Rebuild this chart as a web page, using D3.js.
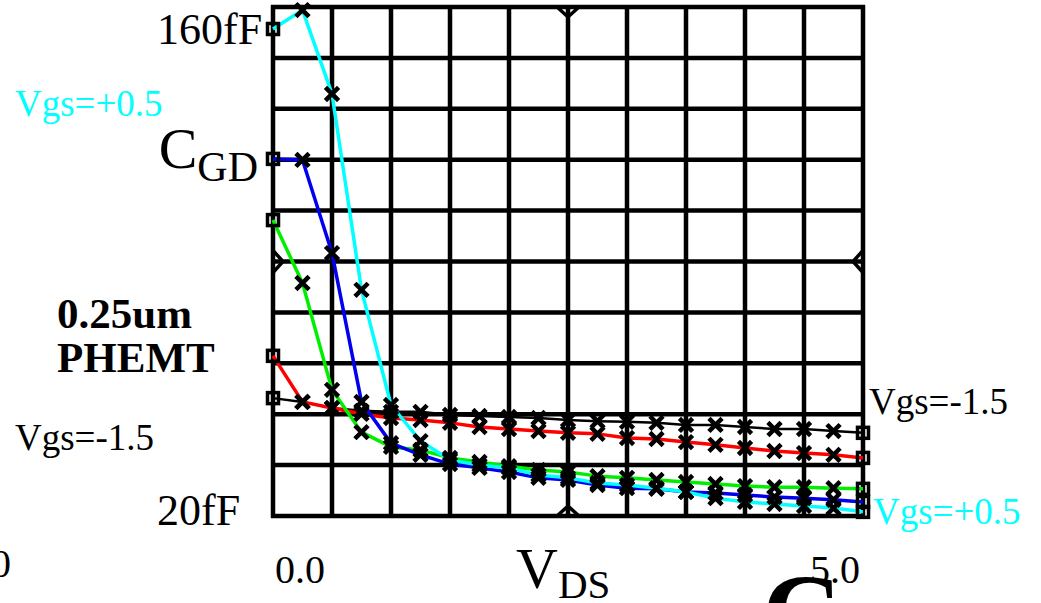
<!DOCTYPE html>
<html>
<head>
<meta charset="utf-8">
<script src="https://cdn.jsdelivr.net/npm/d3@7"></script>
<style>
  html, body { margin: 0; padding: 0; background: #fff; overflow: hidden; }
  svg { display: block; }
  text { font-family: "Liberation Serif", "Times New Roman", serif; }
</style>
</head>
<body>
<svg id="chart" width="1041" height="603"></svg>
<script>
// Drain voltage sweep (V)
const vds = [0, 0.25, 0.5, 0.75, 1.0, 1.25, 1.5, 1.75, 2.0, 2.25, 2.5,
             2.75, 3.0, 3.25, 3.5, 3.75, 4.0, 4.25, 4.5, 4.75, 5.0];

// Gate-drain capacitance (fF) per gate bias
const cgdVgsM15 = [52.6, 51.5, 49.7, 48.9, 48.6, 48.6, 47.7, 47.4, 47.1, 46.8, 46.2,
                   45.9, 45.7, 45.4, 44.8, 44.8, 44.2, 43.6, 43.6, 43.0, 42.5];
const cgdVgsM10 = [64.9, 51.5, 49.7, 48.0, 46.8, 46.2, 45.4, 44.2, 43.6, 43.0, 42.5,
                   42.2, 41.0, 40.7, 39.8, 39.0, 38.1, 37.2, 36.6, 36.1, 35.2];
const cgdVgsM05 = [104.4, 86.1, 55.0, 42.7, 38.4, 37.5, 35.2, 34.0, 32.8, 31.7, 31.1,
                   29.9, 29.4, 28.8, 28.2, 27.6, 27.0, 26.7, 26.7, 26.4, 26.2];
const cgdVgs00  = [122.2, 121.9, 94.8, 51.5, 39.5, 36.1, 33.4, 32.3, 31.1, 29.4, 28.8,
                   27.3, 26.4, 26.2, 25.3, 25.0, 24.4, 23.8, 23.5, 23.0, 22.4];
const cgdVgsP05 = [160.0, 165.5, 141.1, 84.1, 50.6, 40.1, 34.6, 33.1, 32.3, 30.2, 29.4,
                   27.9, 27.3, 26.4, 25.3, 23.5, 22.4, 21.8, 21.2, 20.6, 19.5];

const seriesNames  = ["Vgs=-1.5", "Vgs=-1.0", "Vgs=-0.5", "Vgs=0.0", "Vgs=+0.5"];
const seriesValues = [cgdVgsM15, cgdVgsM10, cgdVgsM05, cgdVgs00, cgdVgsP05];
const seriesColors = ["#000000", "#ff0000", "#00ee00", "#0000ee", "#00ffff"];
const seriesWidths = [2.5, 3.5, 3.5, 3.5, 3.5];

// Axis labels
const yTickValues = [160, 20];
const yTickLabels = ["160fF", "20fF"];
const xTickValues = [0, 5];
const xTickLabels = ["0.0", "5.0"];

const svg = d3.select("#chart");

const x = d3.scaleLinear().domain([0, 5]).range([273, 863]);
const y = d3.scaleLinear().domain([18.3, 166.4]).range([516, 7]);

// Grid: 10 x 10 divisions
const xGrid = x.ticks(10);
const [yLo, yHi] = y.domain();
const yGrid = d3.range(11).map(i => yLo + i * (yHi - yLo) / 10);

const grid = svg.append("g").attr("stroke", "#000").attr("stroke-width", 4.5);
grid.selectAll("line.v").data(xGrid).join("line")
  .attr("x1", d => x(d)).attr("x2", d => x(d))
  .attr("y1", y(yHi) - 2).attr("y2", y(yLo) + 2);
grid.selectAll("line.h").data(yGrid).join("line")
  .attr("y1", d => y(d)).attr("y2", d => y(d))
  .attr("x1", x(0) - 2).attr("x2", x(5) + 2);

// Mid-axis chevrons
const xm = x(2.5), ym = y((yLo + yHi) / 2);
const chev = svg.append("g").attr("fill", "none").attr("stroke", "#000").attr("stroke-width", 3.5);
chev.append("path").attr("d", `M${xm - 11},${y(yHi)} L${xm},${y(yHi) + 10} L${xm + 11},${y(yHi)}`);
chev.append("path").attr("d", `M${xm - 11},${y(yLo)} L${xm},${y(yLo) - 10} L${xm + 11},${y(yLo)}`);
chev.append("path").attr("d", `M${x(0)},${ym - 11} L${x(0) + 10},${ym} L${x(0)},${ym + 11}`);
chev.append("path").attr("d", `M${x(5)},${ym - 11} L${x(5) - 10},${ym} L${x(5)},${ym + 11}`);

// Curves
const line = d3.line().x((d, i) => x(vds[i])).y(d => y(d));
svg.append("g").selectAll("path").data(seriesValues).join("path")
  .attr("d", d => line(d))
  .attr("fill", "none")
  .attr("stroke", (d, i) => seriesColors[i])
  .attr("stroke-width", (d, i) => seriesWidths[i])
  .attr("stroke-linejoin", "round");

// Point markers: crosses inside, open squares at the sweep ends
const pts = [];
seriesValues.forEach((vals, s) => vals.forEach((v, i) => pts.push({ s, i, v })));
const inner = pts.filter(p => p.i > 0 && p.i < vds.length - 1);
const ends = pts.filter(p => p.i === 0 || p.i === vds.length - 1);
const k = 5;
svg.append("g").selectAll("path").data(inner).join("path")
  .attr("d", p => {
    const cx = x(vds[p.i]), cy = y(p.v);
    return `M${cx - k},${cy - k} L${cx + k},${cy + k} M${cx - k},${cy + k} L${cx + k},${cy - k}`;
  })
  .attr("stroke", "#000").attr("stroke-width", 4.5).attr("stroke-linecap", "square");
svg.append("g").selectAll("rect").data(ends).join("rect")
  .attr("x", p => x(vds[p.i]) - 5.5).attr("y", p => y(p.v) - 5.5)
  .attr("width", 11).attr("height", 11)
  .attr("fill", "none").attr("stroke", "#000").attr("stroke-width", 3.5);

// Tick labels
svg.append("g").selectAll("text").data(yTickValues).join("text")
  .attr("x", 157).attr("y", d => y(d) + 15)
  .attr("font-size", 44)
  .text((d, i) => yTickLabels[i]);
svg.append("g").selectAll("text").data(xTickValues).join("text")
  .attr("x", (d, i) => x(d) + (i === 0 ? 2 : -3)).attr("y", 583)
  .attr("text-anchor", (d, i) => i === 0 ? "start" : "end")
  .attr("font-size", 40)
  .text((d, i) => xTickLabels[i]);

// Axis titles
const cgd = svg.append("text").attr("x", 258).attr("y", 168)
  .attr("text-anchor", "end").attr("fill", "#000");
cgd.append("tspan").attr("font-size", 58).text("C");
cgd.append("tspan").attr("font-size", 42).attr("dy", 13).text("GD");

const vdsT = svg.append("text").attr("x", 516).attr("y", 588).attr("fill", "#000");
vdsT.append("tspan").attr("font-size", 58).text("V");
vdsT.append("tspan").attr("font-size", 41).attr("dy", 10).text("DS");

// Device annotation
svg.append("text").attr("x", 57).attr("y", 328)
  .attr("font-size", 43).attr("font-weight", "bold").text("0.25um");
svg.append("text").attr("x", 57).attr("y", 372)
  .attr("font-size", 43).attr("font-weight", "bold").text("PHEMT");

// Bias labels
svg.append("text").attr("x", 15).attr("y", 116).attr("font-size", 37)
  .attr("fill", "#00ffff").text("Vgs=+0.5");
svg.append("text").attr("x", 15).attr("y", 450).attr("font-size", 37)
  .attr("fill", "#000").text("Vgs=-1.5");
svg.append("text").attr("x", 869).attr("y", 414).attr("font-size", 37)
  .attr("fill", "#000").text("Vgs=-1.5");
svg.append("text").attr("x", 873).attr("y", 524).attr("font-size", 37)
  .attr("fill", "#00ffff").text("Vgs=+0.5");

// Neighbouring slide fragments at the page edges
svg.append("text").attr("x", -9).attr("y", 577).attr("font-size", 40).text("0");
svg.append("text").attr("x", 762).attr("y", 650).attr("font-size", 110)
  .attr("font-weight", "bold").text("C");
</script>
</body>
</html>
